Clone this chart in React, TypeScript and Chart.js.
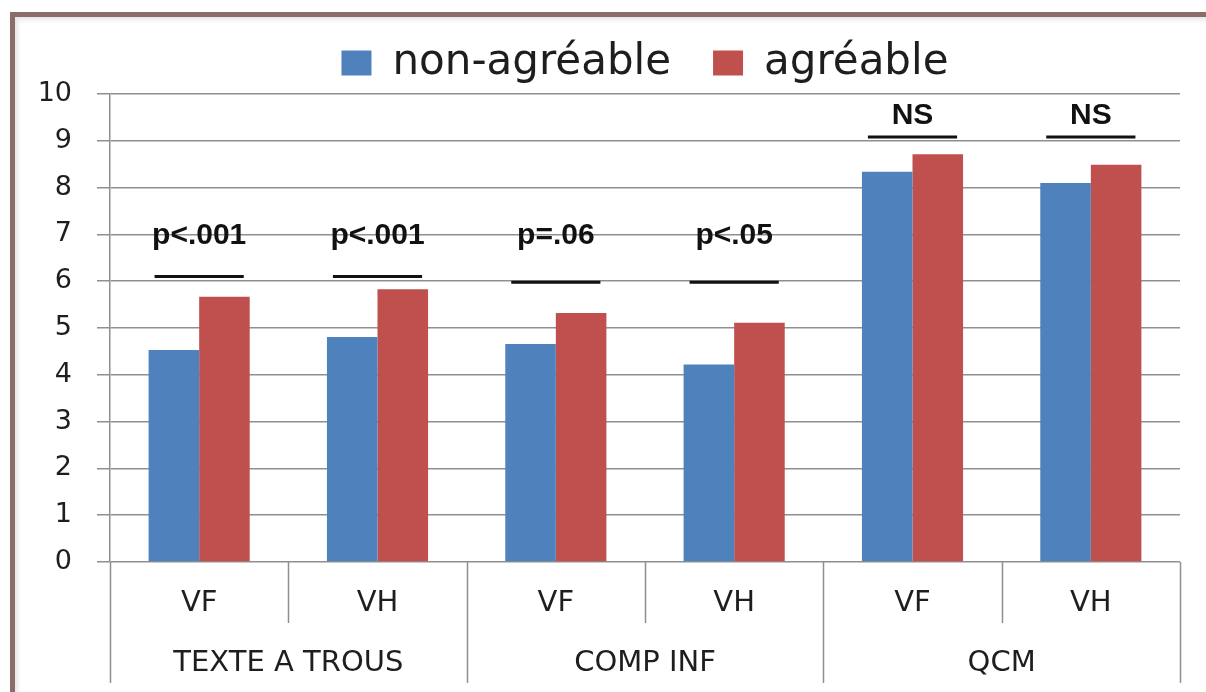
import React, { useEffect, useRef } from 'react';
import { Chart, registerables } from 'chart.js';

Chart.register(...registerables);

// ---- data ----
const categories = ['VF', 'VH', 'VF', 'VH', 'VF', 'VH'];
const groups = ['TEXTE A TROUS', 'COMP INF', 'QCM'];
const groupSizes = [2, 2, 2];
const nonAgreable = [4.53, 4.81, 4.66, 4.22, 8.34, 8.1];
const agreable = [5.67, 5.83, 5.32, 5.11, 8.71, 8.49];
const sigLabels = ['p<.001', 'p<.001', 'p=.06', 'p<.05', 'NS', 'NS'];
const sigLineLevels = [6.1, 6.1, 5.98, 5.98, 9.08, 9.08];
const sigTextLevels = [6.8, 6.8, 6.8, 6.8, 9.35, 9.35];
const yMin = 0;
const yMax = 10;
const yStep = 1;

const BLUE = '#4F81BD';
const RED = '#C0504D';
const GRID = '#8f8f8f';
const TEXT = '#1e1e1e';
const FONT = '"DejaVu Sans", Verdana, sans-serif';

const overlayPlugin = {
  id: 'overlay',
  afterDraw(chart: any) {
    const { ctx, chartArea } = chart;
    const x = chart.scales.x;
    const x2 = chart.scales.x2;
    const y = chart.scales.y;
    ctx.save();
    // category dividers below the axis
    const groupBounds: number[] = [0];
    let acc = 0;
    groupSizes.forEach((g) => {
      acc += g;
      groupBounds.push(acc);
    });
    ctx.strokeStyle = GRID;
    ctx.lineWidth = 1.5;
    for (let i = 0; i <= categories.length; i++) {
      const px = Math.round(x.getPixelForValue(i - 0.5)) + 0.5;
      const isGroup = groupBounds.includes(i);
      const yEnd = isGroup ? x2.bottom - 3 : x.bottom - 1;
      ctx.beginPath();
      ctx.moveTo(px, chartArea.bottom);
      ctx.lineTo(px, yEnd);
      ctx.stroke();
    }
    // significance annotations
    ctx.fillStyle = '#111';
    ctx.strokeStyle = '#111';
    ctx.font = 'bold 30px "Liberation Sans", Arial, sans-serif';
    ctx.textAlign = 'center';
    ctx.textBaseline = 'alphabetic';
    sigLabels.forEach((lab, i) => {
      const cx = x.getPixelForValue(i);
      ctx.fillText(lab, cx, y.getPixelForValue(sigTextLevels[i]));
      const ly = y.getPixelForValue(sigLineLevels[i]);
      ctx.lineWidth = 3;
      ctx.beginPath();
      ctx.moveTo(x.getPixelForValue(i - 0.25), ly);
      ctx.lineTo(x.getPixelForValue(i + 0.25), ly);
      ctx.stroke();
    });
    ctx.restore();
  },
};

export default function App() {
  const canvasRef = useRef<HTMLCanvasElement | null>(null);

  useEffect(() => {
    if (!canvasRef.current) return;
    const chart = new Chart(canvasRef.current, {
      type: 'bar',
      data: {
        labels: categories,
        datasets: [
          {
            label: 'non-agréable',
            data: nonAgreable,
            backgroundColor: BLUE,
            borderWidth: 0,
            barPercentage: 1,
            categoryPercentage: 0.567,
          },
          {
            label: 'agréable',
            data: agreable,
            backgroundColor: RED,
            borderWidth: 0,
            barPercentage: 1,
            categoryPercentage: 0.567,
          },
        ],
      },
      options: {
        animation: false,
        responsive: false,
        devicePixelRatio: 1,
        events: [],
        layout: { padding: { top: 0, left: 20, right: 26, bottom: 6 } },
        plugins: {
          tooltip: { enabled: false },
          legend: {
            display: true,
            position: 'top',
            fullSize: false,
            labels: {
              boxWidth: 30,
              boxHeight: 25,
              padding: 42,
              color: TEXT,
              font: { family: FONT, size: 42 },
            },
          },
        },
        scales: {
          x: {
            type: 'category',
            position: 'bottom',
            offset: true,
            weight: 0,
            grid: { display: false, drawTicks: false },
            border: { display: false },
            ticks: {
              color: TEXT,
              padding: 24,
              font: { family: FONT, size: 29 },
              maxRotation: 0,
              autoSkip: false,
            },
            afterFit: (s: any) => {
              s.height = 62;
            },
          },
          x2: {
            type: 'category',
            position: 'bottom',
            labels: groups,
            offset: true,
            weight: 1,
            grid: { display: false, drawTicks: false },
            border: { display: false },
            ticks: {
              color: TEXT,
              padding: 22,
              font: { family: FONT, size: 29 },
              maxRotation: 0,
              autoSkip: false,
            },
            afterFit: (s: any) => {
              s.height = 62;
            },
          },
          y: {
            min: yMin,
            max: yMax,
            ticks: {
              stepSize: yStep,
              color: TEXT,
              padding: 25,
              font: { family: FONT, size: 27 },
            },
            grid: {
              color: GRID,
              lineWidth: 1.5,
              tickLength: 13,
              drawTicks: true,
            },
            border: { display: true, color: GRID, width: 1.5 },
            afterFit: (s: any) => {
              s.width = 90;
            },
          },
        },
      },
      plugins: [overlayPlugin],
    });
    return () => chart.destroy();
  }, []);

  return (
    <div
      style={{
        position: 'absolute',
        left: 0,
        top: 0,
        width: 1206,
        height: 692,
        background: '#ffffff',
        overflow: 'hidden',
      }}
    >
      <div
        style={{
          position: 'absolute',
          left: 10,
          top: 12,
          right: -10,
          bottom: -10,
          borderLeft: '5px solid #8c6b6b',
          borderTop: '5px solid #8c6b6b',
          boxShadow: 'inset 3px 3px 4px rgba(0,0,0,0.10)',
        }}
      />
      <canvas
        ref={canvasRef}
        width={1206}
        height={692}
        style={{ position: 'absolute', left: 0, top: 0, width: 1206, height: 692 }}
      />
    </div>
  );
}
